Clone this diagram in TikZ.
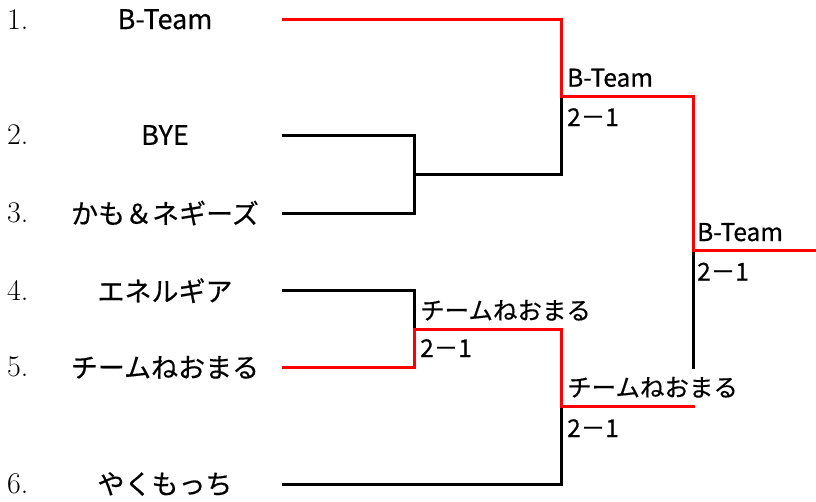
\documentclass[tikz,border=0pt]{standalone}
\usepackage{fontspec}
\newfontfamily\jp[FakeBold=0.4]{Noto Sans CJK JP}
\begin{document}
\begin{tikzpicture}[x=1pt,y=-1pt,
  seg/.style={line width=3pt,line cap=rect,line join=miter},
  win/.style={seg,draw={rgb,255:red,255;green,0;blue,0}},
  lose/.style={seg,draw=black},
  num/.style={anchor=west,inner sep=0pt,font=\fontsize{30}{32}\selectfont},
  team/.style={anchor=center,inner sep=0pt,font=\jp\fontsize{27}{30}\selectfont},
  lab/.style={anchor=base west,inner sep=0pt,font=\jp\fontsize{24.5}{28}\selectfont}]
\useasboundingbox (0,0) rectangle (816,501);
% entries
\foreach \i/\y/\t in {1/19.3/B-Team,2/135/BYE,3/213/かも＆ネギーズ,4/290.7/エネルギア,5/367.3/チームねおまる,6/484/やくもっち}{
  \node[num] (num\i) at (7,\y) {\i.};
  \node[team] (n\i) at (165,\y) {\t};
  \coordinate (s\i) at (283,\y);
}
% junction coordinates
\coordinate (a23) at (414,135);
\coordinate (b23) at (414,213);
\coordinate (m23) at (414,174);
\coordinate (c23) at (561.7,174);
\coordinate (t1) at (561.7,19.3);
\coordinate (r1) at (561.7,96.7);
\coordinate (r1e) at (693,96.7);
\coordinate (f1) at (693,250.7);
\coordinate (fe) at (816,250.7);
\coordinate (fb) at (693,367);
\coordinate (a45) at (414,290.7);
\coordinate (b45) at (414,367.3);
\coordinate (m45) at (414,329.3);
\coordinate (c45) at (561.7,329.3);
\coordinate (r2) at (561.7,406);
\coordinate (r2e) at (693,406);
\coordinate (c6) at (561.7,484);
% losers
\draw[lose] (s2) -- (a23) -- (b23) -- (s3);
\draw[lose] (m23) -- (c23) -- (r1);
\draw[lose] (s4) -- (a45) -- (m45);
\draw[lose] (s6) -- (c6) -- (r2);
\draw[lose] (f1) -- (fb);
% winners
\draw[win] (s1) -- (t1) -- (r1) -- (r1e) -- (f1) -- (fe);
\draw[win] (s5) -- (b45) -- (m45) -- (c45) -- (r2) -- (r2e);
% labels
\node[lab] (w1) at (567,86.7) {B-Team};
\node[lab] (sc1) at (567,126) {2－1};
\node[lab] (w2) at (420,319.5) {チームねおまる};
\node[lab] (sc2) at (420,357) {2－1};
\node[lab] (w3) at (567,396.5) {チームねおまる};
\node[lab] (sc3) at (567,437) {2－1};
\node[lab] (w4) at (697,241) {B-Team};
\node[lab] (sc4) at (697,280.5) {2－1};
\end{tikzpicture}
\end{document}
